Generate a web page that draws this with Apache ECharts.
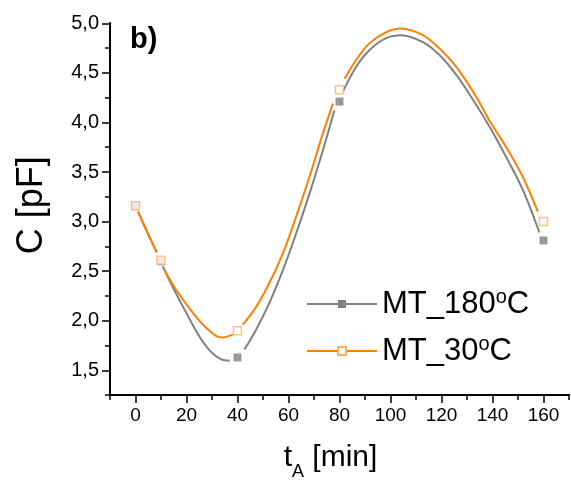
<!DOCTYPE html>
<html>
<head>
<meta charset="utf-8">
<script src="https://cdn.jsdelivr.net/npm/echarts@6/dist/echarts.min.js"></script>
<style>
html,body{margin:0;padding:0;background:#fff;}
#chart{width:571px;height:480px;}
</style>
</head>
<body>
<div id="chart"></div>
<script>
// Measured points
const tA = [0, 10, 40, 80, 160];
const c180 = [3.16, 2.60, 1.63, 4.21, 2.81];
const c30 = [3.16, 2.61, 1.90, 4.33, 3.00];

// Fitted curves (null = gap around a marker)
const curve180X = [1, 4.5, 8.3, 9.5, 10.7, 14.6, 19.9, 25.1, 30.3, 35.6, 37, 38, 42.7, 47.3, 52.5, 57.8, 63, 68.2, 73.5, 78, 79.5, 81.3, 86.5, 91.8, 98.3, 104.2, 112.7, 119.2, 125.8, 131.6, 138.8, 145.4, 151.9, 158.4];
const curve180Y = [3.10, 2.90, 2.69, null, 2.55, 2.34, 2.08, 1.84, 1.67, 1.60, 1.60, null, 1.71, 1.91, 2.18, 2.51, 2.88, 3.28, 3.72, 4.12, null, 4.31, 4.56, 4.73, 4.85, 4.88, 4.81, 4.68, 4.48, 4.26, 3.96, 3.65, 3.32, 2.89];
const curve30X = [1, 4.5, 8.3, 9.5, 11.4, 16, 22.5, 27.7, 33.6, 38.2, 40, 42.1, 47.3, 52.5, 57.8, 63, 68.2, 73.5, 77.4, 79.5, 82, 86.5, 91.8, 98.3, 104.2, 112.7, 119.2, 125.8, 133.6, 138.8, 145.4, 151.9, 157.8];
const curve30Y = [3.10, 2.90, 2.69, null, 2.51, 2.31, 2.08, 1.93, 1.83, 1.86, null, 1.96, 2.14, 2.38, 2.68, 3.05, 3.45, 3.89, 4.19, null, 4.44, 4.63, 4.80, 4.91, 4.947, 4.88, 4.745, 4.56, 4.26, 4.02, 3.75, 3.45, 3.10];

const seriesNames = ['MT_180°C', 'MT_30°C'];
const panelLabel = 'b)';
const xTitle = 't{sub|A} [min]';
const yTitle = 'C [pF]';

const FONT = "'Liberation Sans', Arial, sans-serif";
const GRAY = '#808080';
const ORANGE = '#FF8000';
const ORANGE_LIGHT = '#FFB060';

function pairs(xs, ys) {
  return xs.map((x, i) => [x, ys[i] === null ? '-' : ys[i]]);
}

const chart = echarts.init(document.getElementById('chart'), null, {renderer: 'canvas'});

const axisLine = {show: true, onZero: false, lineStyle: {color: '#000', width: 2}};

const option = {
  animation: false,
  backgroundColor: '#fff',
  title: {
    text: panelLabel,
    left: 130, top: 25, padding: 0,
    textStyle: {fontFamily: FONT, fontSize: 29, fontWeight: 'bold', color: '#000'}
  },
  grid: {left: 110, right: 2, top: 23.3, bottom: 84.9, containLabel: false, outerBoundsMode: 'none'},
  legend: {
    orient: 'vertical',
    left: 306, top: 287, padding: 0,
    itemWidth: 70, itemHeight: 10,
    itemGap: 13,
    data: seriesNames,
    formatter: n => n.replace('°', '{sup|o}'),
    textStyle: {
      fontFamily: FONT, fontSize: 31, color: '#000', lineHeight: 34,
      rich: {sup: {fontFamily: FONT, fontSize: 20, lineHeight: 20, verticalAlign: 'top', color: '#000'}}
    }
  },
  xAxis: [
    {
      type: 'value', min: -10, max: 170, interval: 10, position: 'bottom',
      axisLine: axisLine,
      axisTick: {show: true, length: 5, lineStyle: {color: '#000', width: 1.5}},
      axisLabel: {show: false},
      splitLine: {show: false}
    },
    {
      type: 'value', min: -10, max: 170, minInterval: 20, maxInterval: 20, position: 'bottom',
      axisLine: axisLine,
      axisTick: {show: true, length: 8, lineStyle: {color: '#000', width: 1.5}},
      axisLabel: {
        show: true, showMinLabel: false, showMaxLabel: false, margin: 11,
        fontFamily: FONT, fontSize: 19, color: '#000',
        formatter: v => String(Math.round(v))
      },
      splitLine: {show: false},
      name: xTitle,
      nameLocation: 'middle',
      nameGap: 46,
      nameTextStyle: {
        fontFamily: FONT, fontSize: 30, color: '#000',
        padding: [0, 18, 0, 0],
        rich: {
          sub: {fontFamily: FONT, fontSize: 18, lineHeight: 18, verticalAlign: 'top', padding: [22, 0, 0, 0], color: '#000'}
        },
        lineHeight: 34, verticalAlign: 'top'
      }
    }
  ],
  yAxis: [
    {
      type: 'value', min: 1.25, max: 5, interval: 0.25, position: 'left',
      axisLine: axisLine,
      axisTick: {show: true, length: 5, lineStyle: {color: '#000', width: 1.5}},
      axisLabel: {show: false},
      splitLine: {show: false}
    },
    {
      type: 'value', min: 1.25, max: 5, minInterval: 0.5, maxInterval: 0.5, position: 'left',
      axisLine: axisLine,
      axisTick: {show: true, length: 8, lineStyle: {color: '#000', width: 1.5}},
      axisLabel: {
        show: true, showMinLabel: false, margin: 11,
        fontFamily: FONT, fontSize: 20, color: '#000',
        formatter: v => v.toFixed(1).replace('.', ',')
      },
      splitLine: {show: false},
      name: yTitle,
      nameLocation: 'middle',
      nameGap: 60,
      nameTextStyle: {fontFamily: FONT, fontSize: 36, color: '#000', padding: [0, 0, 0, 8]}
    }
  ],
  series: [
    {
      name: seriesNames[0], type: 'line', xAxisIndex: 0, yAxisIndex: 0,
      data: pairs(curve180X, curve180Y),
      smooth: 0.35, connectNulls: false, showSymbol: false, symbol: 'rect', symbolSize: 8,
      lineStyle: {color: GRAY, width: 2},
      itemStyle: {color: GRAY},
      z: 2
    },
    {
      name: seriesNames[1], type: 'line', xAxisIndex: 0, yAxisIndex: 0,
      data: pairs(curve30X, curve30Y),
      smooth: 0.35, connectNulls: false, showSymbol: false, symbol: 'emptyRect', symbolSize: 8,
      lineStyle: {color: ORANGE, width: 2},
      itemStyle: {color: ORANGE_LIGHT},
      z: 3
    },
    {
      type: 'scatter', xAxisIndex: 0, yAxisIndex: 0,
      data: tA.map((x, i) => [x, c180[i]]),
      symbol: 'rect', symbolSize: 8,
      itemStyle: {color: GRAY},
      z: 4
    },
    {
      type: 'scatter', xAxisIndex: 0, yAxisIndex: 0,
      data: tA.map((x, i) => [x, c30[i]]),
      symbol: 'rect', symbolSize: 8,
      itemStyle: {color: '#fff', borderColor: ORANGE_LIGHT, borderWidth: 1.5},
      z: 5
    }
  ]
};
chart.setOption(option);
</script>
</body>
</html>
